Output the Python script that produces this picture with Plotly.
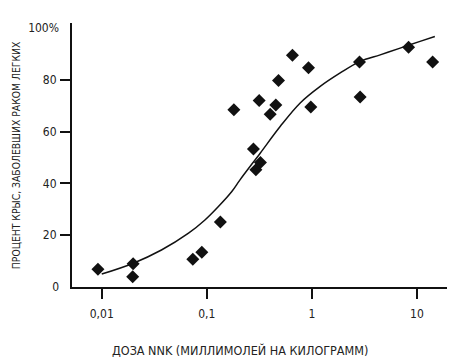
import plotly.graph_objects as go

# Data points (dose in mmol/kg, percent of rats with lung cancer)
dose = [0.0092, 0.0199, 0.0197, 0.0736, 0.0896, 0.1346, 0.278, 0.293, 0.324,
        0.181, 0.315, 0.401, 0.454, 0.481, 0.653, 0.929, 0.977, 2.84, 2.88, 8.32, 14.1]
percent = [6.9, 9.0, 4.0, 10.7, 13.4, 25.1, 53.3, 45.3, 48.1,
           68.5, 72.1, 66.7, 70.3, 79.8, 89.5, 84.7, 69.5, 86.9, 73.4, 92.6, 86.9]

# Fitted curve
curve_dose = [0.01, 0.02, 0.037, 0.067, 0.096, 0.129, 0.173, 0.207, 0.322, 0.499,
              0.774, 1.2, 1.86, 2.88, 4.47, 6.92, 10.7, 14.8]
curve_pct = [5.0, 9.2, 14.3, 20.8, 25.9, 31.1, 36.9, 41.4, 51.7, 62.0,
             71.1, 77.5, 82.7, 87.2, 89.7, 92.3, 94.9, 96.8]

x_tickvals = [0.01, 0.1, 1, 10]
x_ticktext = ["0,01", "0,1", "1", "10"]
y_tickvals = [20, 40, 60, 80]
y_ticktext = ["20", "40", "60", "80"]
y_endvals = [0, 100]
y_endtext = ["0", "100%"]

FONT = "Liberation Sans Narrow, DejaVu Sans Condensed, Roboto, sans-serif"

fig = go.Figure()
fig.add_trace(go.Scatter(x=curve_dose, y=curve_pct, mode="lines",
                         line=dict(color="#111", width=1.5, shape="spline"),
                         hoverinfo="skip", showlegend=False))
fig.add_trace(go.Scatter(x=dose, y=percent, mode="markers",
                         marker=dict(symbol="diamond", size=10, color="#111"),
                         showlegend=False))
fig.add_trace(go.Scatter(x=[None], y=[None], yaxis="y2", showlegend=False))

# the page body has an 8px margin, so the figure is 8px smaller than the window
fig.update_layout(
    width=452, height=351,
    margin=dict(l=64, r=13, t=15, b=72),
    paper_bgcolor="white", plot_bgcolor="white",
    font=dict(family=FONT, size=12, color="#222"),
    xaxis=dict(type="log", range=[-2.283, 1.286], automargin=False,
               tickvals=x_tickvals, ticktext=x_ticktext,
               ticks="outside", ticklen=10, tickwidth=2, tickcolor="#111",
               showline=True, linewidth=2, linecolor="#111",
               showgrid=False, zeroline=False, ticklabelstandoff=5),
    yaxis=dict(range=[0, 102], tickvals=y_tickvals, ticktext=y_ticktext,
               automargin=False,
               ticks="outside", ticklen=10, tickwidth=2, tickcolor="#111",
               showline=True, linewidth=2, linecolor="#111",
               showgrid=False, zeroline=False, ticklabelstandoff=1),
    yaxis2=dict(range=[0, 102], overlaying="y", side="left", automargin=False,
                tickvals=y_endvals, ticktext=y_endtext, ticks="",
                showline=False, showgrid=False, zeroline=False,
                ticklabelstandoff=12),
    annotations=[
        dict(text="ПРОЦЕНТ КРЫС, ЗАБОЛЕВШИХ РАКОМ ЛЕГКИХ", xref="paper", yref="paper",
             x=-0.149, y=0.5, xanchor="center", yanchor="middle", textangle=-90,
             showarrow=False, font=dict(size=10.3, family=FONT, color="#222")),
        dict(text="ДОЗА NNK (МИЛЛИМОЛЕЙ НА КИЛОГРАММ)", xref="paper", yref="paper",
             x=0.448, y=-0.242, xanchor="center", yanchor="middle",
             showarrow=False, font=dict(size=12.5, family=FONT, color="#222")),
    ],
)

fig.write_html("out.html")
